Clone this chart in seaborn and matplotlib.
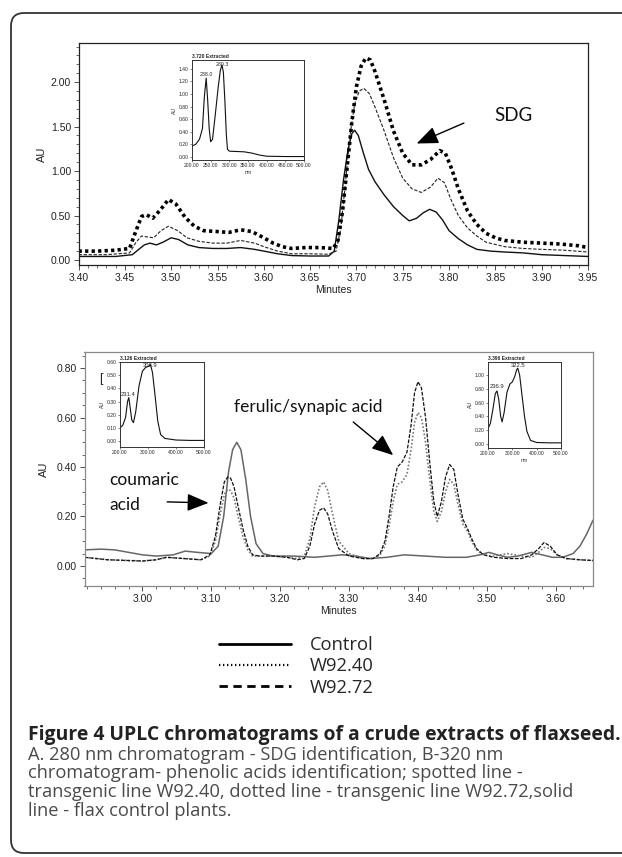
import matplotlib
matplotlib.use("Agg")
import matplotlib.pyplot as plt
import seaborn as sns
from matplotlib import font_manager
from matplotlib.lines import Line2D
from matplotlib.patches import FancyBboxPatch
from matplotlib.ticker import MultipleLocator, FormatStrFormatter

# ---- panel A, 280 nm (minutes / AU) ----
a_time_w9240 = [3.400, 3.420, 3.440, 3.455, 3.462, 3.468, 3.473, 3.480, 3.488, 3.497,
                3.505, 3.515, 3.525, 3.535, 3.550, 3.562, 3.575, 3.587, 3.600, 3.610,
                3.620, 3.630, 3.645, 3.660, 3.675, 3.680, 3.685, 3.690, 3.695, 3.700,
                3.705, 3.710, 3.715, 3.720, 3.730, 3.740, 3.750, 3.760, 3.770, 3.780,
                3.790, 3.796, 3.803, 3.810, 3.820, 3.830, 3.840, 3.850, 3.860, 3.880,
                3.900, 3.920, 3.940, 3.950]
a_w9240 = [0.10, 0.10, 0.11, 0.13, 0.33, 0.49, 0.51, 0.47, 0.56, 0.68,
           0.63, 0.48, 0.38, 0.33, 0.32, 0.31, 0.34, 0.32, 0.25, 0.19,
           0.15, 0.13, 0.14, 0.14, 0.13, 0.22, 0.55, 1.05, 1.55, 1.95,
           2.18, 2.27, 2.25, 2.12, 1.80, 1.45, 1.20, 1.07, 1.07, 1.13,
           1.23, 1.20, 1.02, 0.80, 0.55, 0.40, 0.30, 0.25, 0.22, 0.20,
           0.19, 0.18, 0.16, 0.14]

a_time_w9272 = [3.400, 3.430, 3.455, 3.462, 3.468, 3.474, 3.481, 3.489, 3.497, 3.507,
                3.517, 3.530, 3.545, 3.560, 3.575, 3.590, 3.600, 3.615, 3.630, 3.650,
                3.670, 3.678, 3.683, 3.688, 3.693, 3.698, 3.703, 3.708, 3.714, 3.720,
                3.730, 3.740, 3.750, 3.760, 3.770, 3.780, 3.788, 3.795, 3.802, 3.810,
                3.820, 3.830, 3.840, 3.860, 3.880, 3.900, 3.925, 3.950]
a_w9272 = [0.06, 0.06, 0.08, 0.20, 0.27, 0.26, 0.25, 0.33, 0.38, 0.33,
           0.25, 0.21, 0.19, 0.19, 0.22, 0.19, 0.15, 0.10, 0.07, 0.07,
           0.065, 0.10, 0.35, 0.85, 1.40, 1.75, 1.90, 1.93, 1.87, 1.72,
           1.45, 1.15, 0.92, 0.80, 0.76, 0.82, 0.92, 0.87, 0.68, 0.50,
           0.36, 0.27, 0.20, 0.15, 0.13, 0.12, 0.11, 0.09]

a_time_control = [3.400, 3.440, 3.458, 3.465, 3.471, 3.477, 3.484, 3.491, 3.500, 3.508,
                  3.518, 3.530, 3.545, 3.560, 3.575, 3.590, 3.600, 3.615, 3.630, 3.650,
                  3.670, 3.676, 3.681, 3.686, 3.691, 3.695, 3.698, 3.702, 3.707, 3.713,
                  3.720, 3.730, 3.740, 3.750, 3.757, 3.765, 3.772, 3.779, 3.786, 3.793,
                  3.800, 3.810, 3.820, 3.830, 3.845, 3.860, 3.880, 3.900, 3.925, 3.950]
a_control = [0.04, 0.04, 0.06, 0.12, 0.17, 0.19, 0.17, 0.20, 0.25, 0.23,
             0.17, 0.14, 0.13, 0.13, 0.14, 0.12, 0.10, 0.07, 0.05, 0.045,
             0.045, 0.10, 0.45, 0.90, 1.25, 1.42, 1.46, 1.40, 1.22, 1.02,
             0.88, 0.73, 0.60, 0.50, 0.44, 0.47, 0.53, 0.57, 0.54, 0.45,
             0.33, 0.24, 0.17, 0.12, 0.10, 0.09, 0.08, 0.06, 0.05, 0.04]

# ---- panel B, 320 nm ----
b_time_control = [2.916, 2.940, 2.960, 2.980, 3.000, 3.020, 3.045, 3.062, 3.080, 3.100,
                  3.110, 3.118, 3.125, 3.131, 3.137, 3.143, 3.150, 3.157, 3.165, 3.175,
                  3.190, 3.220, 3.250, 3.270, 3.290, 3.310, 3.330, 3.355, 3.380, 3.410,
                  3.440, 3.470, 3.490, 3.503, 3.515, 3.530, 3.545, 3.565, 3.580, 3.595,
                  3.610, 3.625, 3.635, 3.645, 3.654]
b_control = [0.065, 0.068, 0.065, 0.055, 0.045, 0.040, 0.045, 0.060, 0.055, 0.050,
             0.080, 0.200, 0.380, 0.470, 0.500, 0.470, 0.350, 0.200, 0.090, 0.050,
             0.040, 0.040, 0.035, 0.040, 0.045, 0.040, 0.030, 0.035, 0.045, 0.040,
             0.035, 0.035, 0.045, 0.055, 0.045, 0.035, 0.040, 0.055, 0.045, 0.035,
             0.035, 0.050, 0.080, 0.130, 0.185]

b_time = [2.916, 2.950, 2.980, 3.000, 3.020, 3.035, 3.060, 3.085, 3.098, 3.106,
          3.113, 3.119, 3.124, 3.128, 3.133, 3.139, 3.146, 3.153, 3.160, 3.170,
          3.190, 3.210, 3.225, 3.235, 3.243, 3.250, 3.257, 3.263, 3.269, 3.276,
          3.285, 3.300, 3.320, 3.335, 3.345, 3.352, 3.358, 3.364, 3.370, 3.377,
          3.384, 3.390, 3.395, 3.400, 3.405, 3.411, 3.417, 3.423, 3.428, 3.434,
          3.440, 3.446, 3.452, 3.458, 3.465, 3.472, 3.478, 3.485, 3.495, 3.510,
          3.530, 3.550, 3.565, 3.575, 3.583, 3.592, 3.602, 3.615, 3.635, 3.654]
b_w9272 = [0.035, 0.025, 0.022, 0.020, 0.025, 0.035, 0.030, 0.025, 0.045, 0.120,
           0.250, 0.340, 0.360, 0.355, 0.320, 0.240, 0.150, 0.080, 0.045, 0.040,
           0.040, 0.035, 0.025, 0.030, 0.080, 0.170, 0.225, 0.235, 0.210, 0.140,
           0.070, 0.040, 0.030, 0.030, 0.050, 0.100, 0.200, 0.320, 0.400, 0.420,
           0.460, 0.570, 0.700, 0.745, 0.720, 0.600, 0.420, 0.260, 0.200, 0.260,
           0.360, 0.410, 0.390, 0.290, 0.190, 0.150, 0.110, 0.070, 0.045, 0.035,
           0.030, 0.030, 0.045, 0.070, 0.095, 0.080, 0.045, 0.030, 0.025, 0.022]
b_w9240 = [0.035, 0.025, 0.022, 0.020, 0.025, 0.035, 0.030, 0.025, 0.040, 0.100,
           0.210, 0.290, 0.310, 0.305, 0.275, 0.200, 0.120, 0.065, 0.040, 0.040,
           0.040, 0.035, 0.030, 0.040, 0.110, 0.240, 0.320, 0.340, 0.305, 0.210,
           0.100, 0.050, 0.030, 0.030, 0.045, 0.080, 0.160, 0.260, 0.330, 0.340,
           0.370, 0.470, 0.580, 0.620, 0.600, 0.500, 0.350, 0.220, 0.180, 0.220,
           0.300, 0.350, 0.330, 0.250, 0.170, 0.140, 0.100, 0.065, 0.045, 0.040,
           0.050, 0.040, 0.035, 0.055, 0.075, 0.070, 0.045, 0.030, 0.025, 0.022]

# ---- UV spectra in the insets (nm / AU) ----
sdg_nm = [200, 210, 220, 228, 233, 238, 242, 246, 250, 255, 262, 270, 276, 280.3,
          284, 288, 292, 295, 300, 320, 340, 360, 380, 400, 450, 500]
sdg_au = [0.17, 0.20, 0.28, 0.45, 0.95, 1.25, 0.90, 0.45, 0.24, 0.28, 0.65, 1.10, 1.38, 1.46,
          1.35, 0.90, 0.35, 0.12, 0.09, 0.085, 0.08, 0.06, 0.03, 0.01, 0.005, 0.005]
coum_nm = [200, 210, 220, 227, 231.4, 236, 242, 248, 256, 268, 280, 292, 300, 308.9,
           316, 325, 335, 345, 360, 400, 450, 500]
coum_au = [0.10, 0.12, 0.18, 0.30, 0.33, 0.26, 0.16, 0.14, 0.22, 0.42, 0.53, 0.56, 0.565, 0.58,
           0.52, 0.35, 0.15, 0.05, 0.02, 0.008, 0.005, 0.005]
ferul_nm = [200, 210, 220, 230, 236.9, 244, 252, 258, 266, 278, 290, 300, 310, 318, 322.5,
            330, 340, 350, 360, 375, 400, 450, 500]
ferul_au = [0.22, 0.30, 0.50, 0.73, 0.77, 0.65, 0.40, 0.32, 0.45, 0.75, 0.87, 0.90, 0.98, 1.08, 1.10,
            1.00, 0.70, 0.40, 0.18, 0.05, 0.02, 0.015, 0.015]

legend_labels = ["Control", "W92.40", "W92.72"]
caption_title = "Figure 4 UPLC chromatograms of a crude extracts of flaxseed."
caption_lines = ["A. 280 nm chromatogram - SDG identification, B-320 nm",
                 "chromatogram- phenolic acids identification; spotted line -",
                 "transgenic line W92.40, dotted line - transgenic line W92.72,solid",
                 "line - flax control plants."]

sns.set_theme(style="ticks")
names = {f.name for f in font_manager.fontManager.ttflist}
narrow = "Liberation Sans Narrow" if "Liberation Sans Narrow" in names else "Liberation Sans"
plt.rcParams["font.family"] = [narrow, "DejaVu Sans"]
calib = ["Lato", "DejaVu Sans"]
myriad = ["Open Sans", "DejaVu Sans"]

W, H = 622, 857
fig = plt.figure(figsize=(W / 100, H / 100), dpi=100)


def px_axes(x0, y0, x1, y1):
    # pixel box (top-left origin) -> figure fraction
    return fig.add_axes([x0 / W, 1 - y1 / H, (x1 - x0) / W, (y1 - y0) / H])


def style_main(ax, spine_col, xmaj, xmin, ymaj, ymin, label_x, lsize=7.5):
    for s in ax.spines.values():
        s.set_color(spine_col)
        s.set_linewidth(0.9)
    ax.xaxis.set_major_locator(MultipleLocator(xmaj))
    ax.xaxis.set_minor_locator(MultipleLocator(xmin))
    ax.yaxis.set_major_locator(MultipleLocator(ymaj))
    ax.yaxis.set_minor_locator(MultipleLocator(ymin))
    ax.xaxis.set_major_formatter(FormatStrFormatter("%.2f"))
    ax.yaxis.set_major_formatter(FormatStrFormatter("%.2f"))
    ax.tick_params(which="major", direction="out", length=3.5, width=0.6, color="#333333",
                   labelsize=lsize, pad=2, labelcolor="#222222")
    ax.tick_params(which="minor", direction="out", length=2, width=0.5, color="#333333")
    ax.set_xlabel("Minutes", fontsize=lsize, color="#222222", labelpad=2)
    ax.set_ylabel("AU", fontsize=lsize + 0.5, color="#222222")
    ax.yaxis.set_label_coords(label_x, 0.5)


def style_inset(ax, title, xlim, ylim, ymaj, xmaj, xlabel):
    ax.set_xlim(*xlim)
    ax.set_ylim(*ylim)
    for s in ax.spines.values():
        s.set_color("#333333")
        s.set_linewidth(0.7)
    ax.xaxis.set_major_locator(MultipleLocator(xmaj))
    ax.yaxis.set_major_locator(MultipleLocator(ymaj))
    ax.xaxis.set_major_formatter(FormatStrFormatter("%.2f"))
    ax.yaxis.set_major_formatter(FormatStrFormatter("%.2f"))
    ax.tick_params(direction="out", length=1.5, width=0.4, labelsize=3.6, pad=1)
    ax.set_xlabel(xlabel, fontsize=3.6, labelpad=1)
    ax.set_ylabel("AU", fontsize=3.6, labelpad=1)
    ax.text(0.0, 1.01, title, transform=ax.transAxes, fontsize=3.6, ha="left", va="bottom",
            fontweight="bold")


def peak_label(ax, x, text, size, y=None):
    # label drawn just under the top frame of the inset (or at a given height)
    if y is None:
        ax.text(x, 0.985, text, transform=ax.get_xaxis_transform(), fontsize=size,
                ha="center", va="top")
    else:
        ax.text(x, y, text, fontsize=size, ha="center", va="bottom")


arrow = dict(arrowstyle="-|>,head_length=1.1,head_width=0.45", color="black",
             lw=1.0, shrinkA=0, shrinkB=0)

# ================= panel A =================
axA = px_axes(78.6, 43, 588, 265)
sns.lineplot(x=a_time_control, y=a_control, ax=axA, color="#111111", lw=1.0)
sns.lineplot(x=a_time_w9272, y=a_w9272, ax=axA, color="#222222", lw=0.8, linestyle=(0, (3, 1.5)))
sns.lineplot(x=a_time_w9240, y=a_w9240, ax=axA, color="#000000", lw=2.6,
             linestyle=(0, (0.9, 0.9)), dash_capstyle="butt")
axA.set_xlim(3.40, 3.95)
axA.set_ylim(-0.056, 2.44)
style_main(axA, "#222222", 0.05, 0.01, 0.5, 0.1, (47 - 78.6) / 509.4)

axA.annotate("", xy=(3.765, 1.31), xytext=(3.816, 1.54), arrowprops=arrow)
axA.text(3.870, 1.63, "SDG", fontsize=13.5, family=calib, ha="center", va="center", color="#111111")

insA = px_axes(192, 60, 304, 160)
sns.lineplot(x=sdg_nm, y=sdg_au, ax=insA, color="#111111", lw=0.8)
style_inset(insA, "3.720 Extracted", (200, 500), (-0.05, 1.54), 0.2, 50, "nm")
peak_label(insA, 238.0, "238.0", 3.8, y=1.27)
peak_label(insA, 280.3, "280.3", 3.8)

# ================= panel B =================
axB = px_axes(84.5, 352, 593, 586)
sns.lineplot(x=b_time_control, y=b_control, ax=axB, color="#666666", lw=1.1)
sns.lineplot(x=b_time, y=b_w9240, ax=axB, color="#777777", lw=1.2, linestyle=(0, (1, 1.2)))
sns.lineplot(x=b_time, y=b_w9272, ax=axB, color="#111111", lw=0.9, linestyle=(0, (3, 1.2)))
axB.set_xlim(2.916, 3.654)
axB.set_ylim(-0.081, 0.865)
style_main(axB, "#8a8a8a", 0.1, 0.02, 0.2, 0.05, (49 - 84.5) / 508.5)

axB.text(3.133, 0.642, "ferulic/synapic acid", fontsize=12.5, family=calib, ha="left",
         va="center", color="#111111")
axB.annotate("", xy=(3.364, 0.448), xytext=(3.306, 0.582), arrowprops=arrow)
axB.text(2.952, 0.347, "coumaric", fontsize=12.5, family=calib, ha="left", va="center",
         color="#111111")
axB.text(2.952, 0.246, "acid", fontsize=12.5, family=calib, ha="left", va="center",
         color="#111111")
axB.annotate("", xy=(3.096, 0.255), xytext=(3.036, 0.259), arrowprops=arrow)
axB.text(2.940, 0.755, "[", fontsize=9, ha="center", va="center", color="#222222")

insB1 = px_axes(120, 362, 204, 447)
sns.lineplot(x=coum_nm, y=coum_au, ax=insB1, color="#111111", lw=0.8)
style_inset(insB1, "3.126 Extracted", (200, 500), (-0.045, 0.60), 0.1, 100, "")
peak_label(insB1, 228.0, "231.4", 4.2, y=0.335)
peak_label(insB1, 308.9, "308.9", 4.2)

insB2 = px_axes(488, 362, 561, 448)
sns.lineplot(x=ferul_nm, y=ferul_au, ax=insB2, color="#111111", lw=0.8)
style_inset(insB2, "3.396 Extracted", (200, 500), (-0.06, 1.19), 0.2, 100, "nm")
peak_label(insB2, 236.9, "236.9", 4.2, y=0.80)
peak_label(insB2, 322.5, "322.5", 4.2)

# ================= legend =================
handles = [Line2D([], [], color="black", lw=2.0),
           Line2D([], [], color="black", lw=1.6, linestyle=(0, (0.6, 1.2))),
           Line2D([], [], color="black", lw=2.0, linestyle=(0, (3, 2)))]
fig.legend(handles, legend_labels, loc="upper left", bbox_to_anchor=(219 / W, 1 - 636 / H),
           frameon=False, borderpad=0, borderaxespad=0, handlelength=3.95,
           handletextpad=1.0, labelspacing=0.18, prop={"family": myriad, "size": 13.2})

# ================= caption =================
title_txt = fig.text(28 / W, 1 - 735 / H, caption_title, family=myriad, fontweight="bold",
                     fontsize=13, color="#222222", ha="left", va="center")
line_txts = []
for i, line in enumerate(caption_lines):
    line_txts.append(fig.text(28 / W, 1 - (755 + 18.5 * i) / H, line, family=myriad,
                              fontsize=12, color="#4a4a4a", ha="left", va="center"))

# scale the caption fonts so that their widths match the reference
renderer = fig.canvas.get_renderer()
w = title_txt.get_window_extent(renderer).width
title_txt.set_fontsize(title_txt.get_fontsize() * 589 / w)
w = line_txts[2].get_window_extent(renderer).width
scale = 543 / w
for t in line_txts:
    t.set_fontsize(t.get_fontsize() * scale)

# rounded frame around the figure (cut by the image edge on the right)
frame = FancyBboxPatch((0.11, 0.04), 7.5, 8.44 - 0.04, boxstyle="round,pad=0,rounding_size=0.13",
                       transform=fig.dpi_scale_trans, fill=False, edgecolor="#333333", lw=1.3)
fig.add_artist(frame)

fig.savefig("out.png", dpi=100)
